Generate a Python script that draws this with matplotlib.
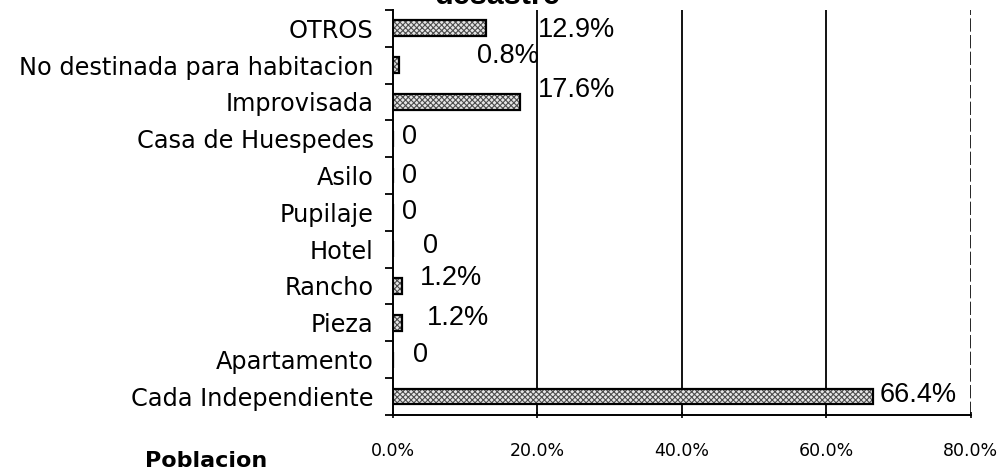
import matplotlib.pyplot as plt
import numpy as np

plt.rcParams["font.family"] = ["Liberation Sans", "DejaVu Sans"]
plt.rcParams["hatch.linewidth"] = 0.8

# housing type, bottom to top
categories = [
    "Cada Independiente", "Apartamento", "Pieza", "Rancho", "Hotel",
    "Pupilaje", "Asilo", "Casa de Huespedes", "Improvisada",
    "No destinada para habitacion", "OTROS",
]
shares = [66.4, 0, 1.2, 1.2, 0, 0, 0, 0, 17.6, 0.8, 12.9]
value_labels = ["66.4%", "0", "1.2%", "1.2%", "0", "0", "0", "0", "17.6%", "0.8%", "12.9%"]
# label anchor (percent along the axis) and vertical nudge (rows)
label_x = [67.4, 2.8, 4.7, 3.7, 4.1, 1.2, 1.2, 1.2, 20.0, 11.7, 20.0]
label_dy = [0.05, 0.13, 0.12, 0.22, 0.1, 0.0, 0.0, 0.04, 0.33, 0.25, -0.05]
xticks = [0, 20, 40, 60, 80]

fig = plt.figure(figsize=(10.05, 4.73), dpi=100)
ax = fig.add_axes([0.391, 0.123, 0.575, 0.856])

y = np.arange(len(categories))
# hatch layer first, then the black outline on top
ax.barh(y, shares, height=0.43, color="#e6e6e6", edgecolor="#4d4d4d",
        linewidth=0, hatch="xxxxxx", zorder=3)
ax.barh(y, shares, height=0.43, color="none", edgecolor="black",
        linewidth=1.6, zorder=4)

for yi, txt, lx, dy in zip(y, value_labels, label_x, label_dy):
    ax.text(lx, yi + dy, txt, va="center", ha="left", fontsize=19.5, zorder=5)

ax.set_xlim(0, 80)
ax.set_ylim(-0.5, len(categories) - 0.5)
ax.set_xticks(xticks)
ax.set_xticklabels([f"{v:.1f}%" for v in xticks], fontsize=12.5,
                   family="DejaVu Sans")
ax.set_yticks(y)
ax.set_yticklabels(categories, fontsize=17.3, family="DejaVu Sans")
ax.set_yticks(np.arange(-0.5, len(categories), 1), minor=True)
ax.tick_params(axis="y", which="major", length=0, pad=14)
ax.tick_params(axis="y", which="minor", length=6, width=1.3, direction="out")
ax.tick_params(axis="x", length=5, width=1.2, direction="inout", pad=17)

for v in xticks[1:4]:
    ax.axvline(v, color="black", linewidth=1.3, zorder=1)
ax.axvline(80, color="black", linewidth=1.2, linestyle=(0, (8, 2)), zorder=1)

ax.spines["top"].set_visible(False)
ax.spines["right"].set_visible(False)
ax.spines["left"].set_linewidth(1.4)
ax.spines["bottom"].set_linewidth(1.4)

fig.text(0.495, 1 - 4 / 473, "desastre", ha="center", va="baseline",
         fontsize=22, fontweight="bold")
fig.text(0.144, 1 - 467 / 473, "Poblacion", ha="left", va="baseline",
         fontsize=16, fontweight="bold", family="DejaVu Sans")

fig.savefig("out.png", dpi=100)
